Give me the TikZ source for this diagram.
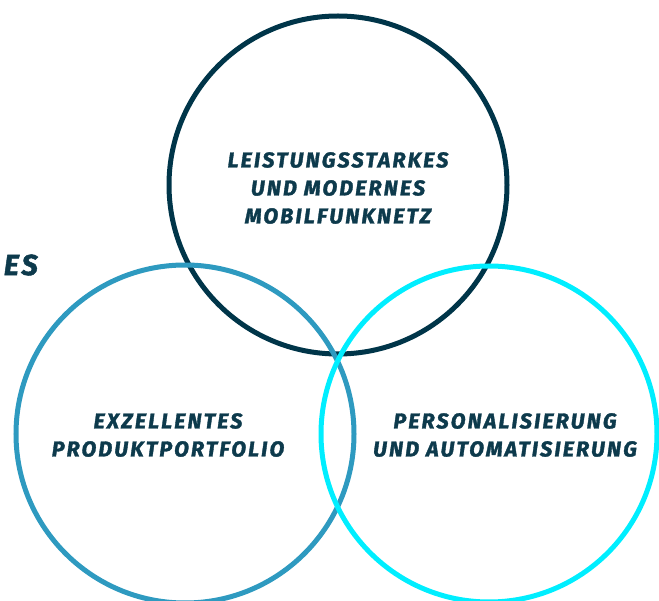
\documentclass[tikz,border=0pt]{standalone}
\usepackage{fontspec}
\setmainfont{Fira Sans}
\newfontfamily\widesans[LetterSpace=10, BoldItalicFeatures={FakeBold=1.6}]{Fira Sans}
\definecolor{navy}{HTML}{003549}
\definecolor{steel}{HTML}{2E9AC0}
\definecolor{aqua}{HTML}{00EEFF}
\definecolor{ink}{HTML}{0D3A4C}
\tikzset{
  ring/.style={line width=5pt},
  label/.style={text=ink, font=\widesans\fontsize{21.5}{28}\selectfont\bfseries\itshape, align=center}
}
\begin{document}
\begin{tikzpicture}[x=1pt,y=-1pt]
\useasboundingbox (0,0) rectangle (659,601);
\clip (0,0) rectangle (659,601);

\draw[ring,navy] (338,185) circle(169);
\draw[ring,steel] (185,434) circle(169);
\draw[ring,aqua] (489,434) circle(168);

\node[label] (netz) at (338,188) {LEISTUNGSSTARKES\\UND MODERNES\\MOBILFUNKNETZ};
\node[label] (portfolio) at (168,435) {EXZELLENTES\\PRODUKTPORTFOLIO};
\node[label] (auto) at (505,435) {PERSONALISIERUNG\\UND AUTOMATISIERUNG};
\node[label, font=\widesans\fontsize{29}{30}\selectfont\bfseries\itshape, anchor=east, inner sep=0pt] (cut) at (38,265) {ES};

\end{tikzpicture}
\end{document}
